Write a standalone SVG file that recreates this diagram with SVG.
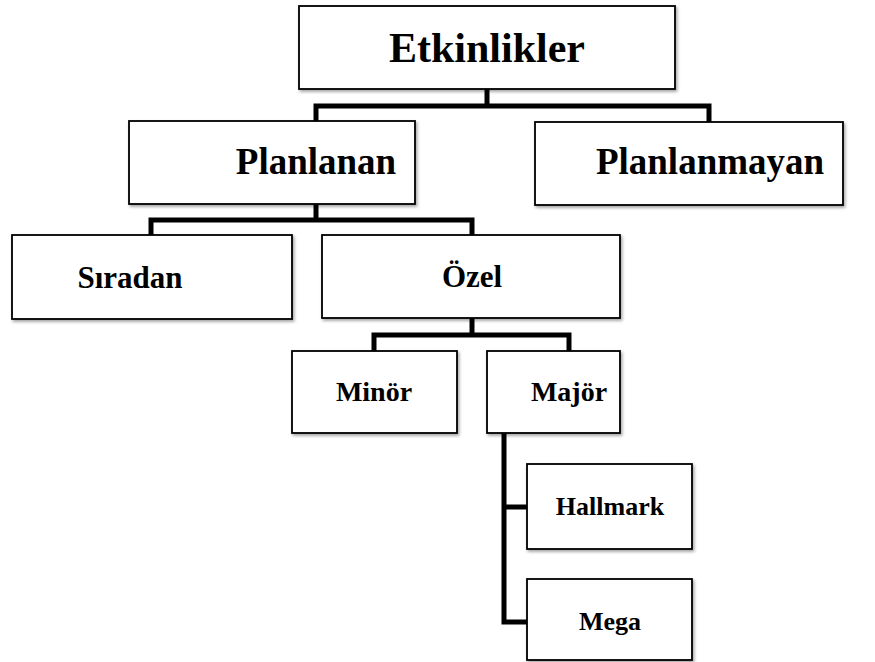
<svg xmlns="http://www.w3.org/2000/svg" width="875" height="662" viewBox="0 0 875 662">
<defs>
<filter id="sh" x="-5%" y="-5%" width="115%" height="125%">
<feDropShadow dx="1.5" dy="2" stdDeviation="1.5" flood-color="#000" flood-opacity="0.35"/>
</filter>
</defs>
<style>
.box{fill:#fff;stroke:#000;stroke-width:1.8;filter:url(#sh)}
.t{font-family:"Liberation Serif","Times New Roman",serif;font-weight:bold;fill:#000;text-anchor:middle}
.c{fill:none;stroke:#000;stroke-width:5;stroke-linejoin:miter;stroke-linecap:butt}
</style>
<rect width="875" height="662" fill="#fff"/>
<g id="connectors">
<path class="c" d="M487 89 V106 M316 122 V106 H709 V122"/>
<path class="c" d="M316 204 V220 M151 235 V220 H472 V235"/>
<path class="c" d="M472 318 V335 M374 351 V335 H569 V351"/>
<path class="c" d="M504 433 V622 H527 M504 507 H527"/>
</g>
<g id="etkinlikler"><rect class="box" x="299" y="6" width="376" height="83"/><text class="t" x="487" y="62" font-size="42">Etkinlikler</text></g>
<g id="planlanan"><rect class="box" x="129" y="121" width="286" height="83"/><text class="t" x="316" y="174" font-size="37">Planlanan</text></g>
<g id="planlanmayan"><rect class="box" x="535" y="122" width="308" height="83"/><text class="t" x="710" y="174" font-size="37">Planlanmayan</text></g>
<g id="siradan"><rect class="box" x="12" y="235" width="280" height="84"/><text class="t" x="130" y="288" font-size="31">Sıradan</text></g>
<g id="ozel"><rect class="box" x="322" y="235" width="298" height="83"/><text class="t" x="472" y="287" font-size="31">Özel</text></g>
<g id="minor"><rect class="box" x="292" y="351" width="165" height="82"/><text class="t" x="374" y="401" font-size="28">Minör</text></g>
<g id="major"><rect class="box" x="487" y="351" width="133" height="82"/><text class="t" x="569" y="401" font-size="28">Majör</text></g>
<g id="hallmark"><rect class="box" x="527" y="464" width="165" height="85"/><text class="t" x="610" y="515" font-size="26">Hallmark</text></g>
<g id="mega"><rect class="box" x="527" y="579" width="165" height="81"/><text class="t" x="610" y="630" font-size="26">Mega</text></g>
</svg>
